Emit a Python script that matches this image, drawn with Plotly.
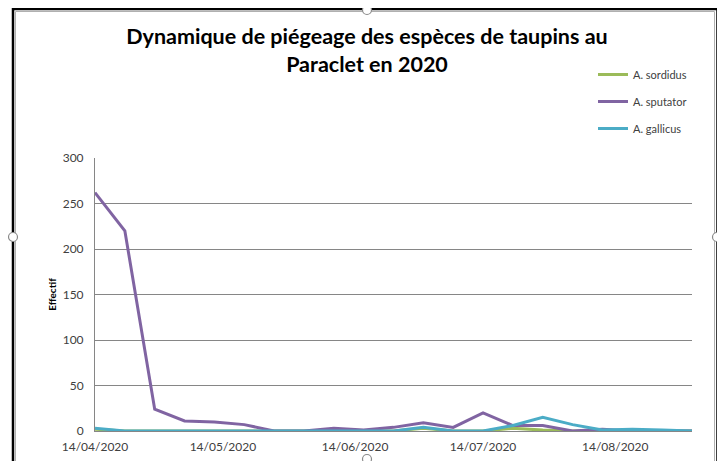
import plotly.graph_objects as go

# the page body adds an 8px offset, so the figure is drawn 8px smaller
OFF = 8
W, H = 725 - OFF, 461 - OFF

# weekly trap dates (one reading per week)
dates = [
  "2020-04-14", "2020-04-21", "2020-04-28", "2020-05-05", "2020-05-12",
  "2020-05-19", "2020-05-26", "2020-06-02", "2020-06-09", "2020-06-16",
  "2020-06-23", "2020-06-30", "2020-07-07", "2020-07-14", "2020-07-21",
  "2020-07-28", "2020-08-04", "2020-08-11", "2020-08-18", "2020-08-25",
  "2020-09-01",
]
sordidus = [2, 0, 0, 0, 0, 0, 0, 0, 0, 0, 0, 3, 0, 0, 3, 1, 0, 0, 0, 0, 0]
sputator = [262, 220, 24, 11, 10, 7, 0, 0, 3, 1, 4, 9, 4, 20, 6, 6, 0, 2, 0, 0, 0]
gallicus = [3, 0, 0, 0, 0, 0, 0, 0, 0, 0, 0, 4, 0, 0, 6, 15, 7, 1, 2, 1, 0]

tick_dates = ["2020-04-14", "2020-05-14", "2020-06-14", "2020-07-14", "2020-08-14"]
tick_text = ["14/04/2020", "14/05/2020", "14/06/2020", "14/07/2020", "14/08/2020"]

series = [
  ("A. sordidus", sordidus, "#9BBB59"),
  ("A. sputator", sputator, "#8064A2"),
  ("A. gallicus", gallicus, "#4BACC6"),
]

FONT = "Lato, 'Liberation Sans', sans-serif"


def px(x):
  return (x - OFF) / W


def py(y):
  return 1 - (y - OFF) / H


fig = go.Figure()
for name, values, color in series:
  fig.add_trace(go.Scatter(
    x=dates, y=values, mode="lines", name=name,
    line={"color": color, "width": 3},
    legendgroup=name,
  ))

shapes = [
  # chart frame (selected Excel chart look)
  dict(type="rect", xref="paper", yref="paper", x0=px(13), x1=px(717.5), y0=py(475), y1=py(9),
       line={"color": "#000000", "width": 2.5}, layer="above"),
  dict(type="rect", xref="paper", yref="paper", x0=px(15.5), x1=px(714.5), y0=py(475), y1=py(11.5),
       line={"color": "#b0b0b0", "width": 1}, layer="above"),
]
for cx, cy in [(367, 10), (13, 237), (717, 237), (367, 459)]:
  shapes.append(dict(type="circle", xref="paper", yref="paper",
                     x0=px(cx - 4.5), x1=px(cx + 4.5), y0=py(cy + 4.5), y1=py(cy - 4.5),
                     line={"color": "#8a8a8a", "width": 1.2}, fillcolor="white", layer="above"))

fig.update_layout(
  width=W, height=H,
  margin={"l": 0, "r": 0, "t": 0, "b": 0, "autoexpand": False},
  paper_bgcolor="white", plot_bgcolor="white",
  font={"family": FONT, "color": "#404040", "size": 11},
  title={
    "text": "<b>Dynamique de piégeage des espèces de taupins au<br>Paraclet en 2020</b>",
    "x": px(367), "xanchor": "center", "xref": "paper",
    "y": py(44), "yanchor": "middle", "yref": "paper",
    "font": {"family": FONT, "size": 21.5, "color": "#000000"},
    "automargin": False,
  },
  xaxis={
    "type": "date", "automargin": False,
    "domain": [px(95), px(692)],
    "range": ["2020-04-14", "2020-09-01"],
    "tickvals": tick_dates, "ticktext": tick_text,
    "showgrid": False, "showline": True, "linecolor": "#868686", "linewidth": 1,
    "ticks": "", "tickfont": {"size": 12, "color": "#404040"},
    "ticklabelstandoff": 5,
    "anchor": "y",
  },
  yaxis={
    "automargin": False,
    "domain": [py(431), py(158)],
    "range": [0, 300], "dtick": 50,
    "showgrid": True, "gridcolor": "#868686", "gridwidth": 1,
    "showline": True, "linecolor": "#868686", "linewidth": 1,
    "zeroline": False, "ticks": "",
    "tickfont": {"size": 12, "color": "#404040"},
    "ticklabelstandoff": 8,
    "title": {"text": "<b>Effectif</b>", "font": {"size": 10, "color": "#000000"}, "standoff": 4},
  },
  legend={
    "x": px(593), "y": py(60), "xanchor": "left", "yanchor": "top",
    "font": {"size": 11, "color": "#404040"},
    "tracegroupgap": 8, "itemwidth": 30,
    "bgcolor": "rgba(0,0,0,0)",
  },
  shapes=shapes,
)

fig.write_html("out.html")
